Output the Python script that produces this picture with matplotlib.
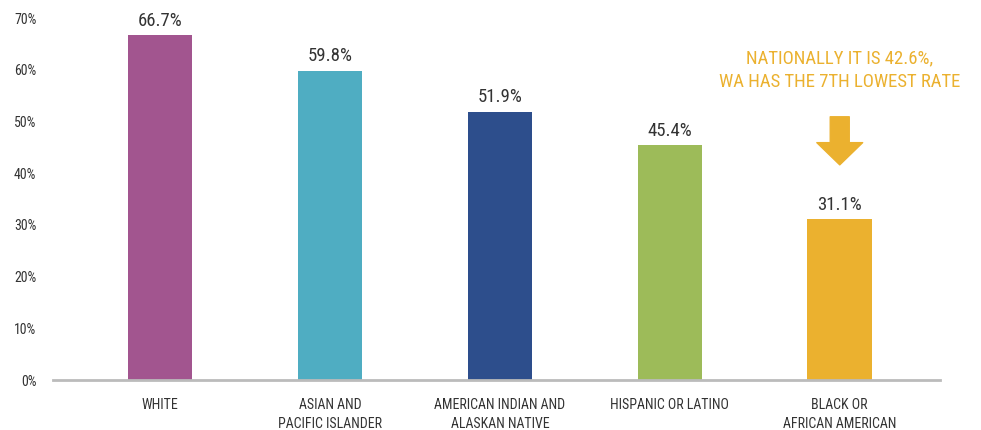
import matplotlib.pyplot as plt
from matplotlib import font_manager

# data
groups = ["WHITE", "ASIAN AND\nPACIFIC ISLANDER", "AMERICAN INDIAN AND\nALASKAN NATIVE",
          "HISPANIC OR LATINO", "BLACK OR\nAFRICAN AMERICAN"]
rates = [66.7, 59.8, 51.9, 45.4, 31.1]
colors = ["#A2558F", "#4FADC2", "#2D4E8C", "#9DBB59", "#EBB12F"]
yticks = [0, 10, 20, 30, 40, 50, 60, 70]

# pick a narrow font if one is around
names = {f.name for f in font_manager.fontManager.ttflist}
fam = "DejaVu Sans"
for cand in ["Liberation Sans Narrow", "Roboto Condensed", "Open Sans Condensed", "DejaVu Sans"]:
    if cand in names:
        fam = cand
        break
plt.rcParams['font.family'] = [fam, 'DejaVu Sans']
plt.rcParams['font.stretch'] = 'condensed'

fig = plt.figure(figsize=(9.81, 4.30), dpi=100)
ax = fig.add_axes([53/981, 50/430, 887/981, 362/430])

x = list(range(len(groups)))
ax.bar(x, rates, width=0.38, color=colors, zorder=2)

# value labels above bars
for xi, r in zip(x, rates):
    ax.annotate(f"{r}%", (xi, r), xytext=(0, 4), textcoords="offset points",
                ha="center", va="bottom", fontsize=13.5, color="#333333")

# national comparison note + arrow
ax.text(4, 60.0, "NATIONALLY IT IS 42.6%,\nWA HAS THE 7TH LOWEST RATE",
        ha="center", va="center", fontsize=13.5, color="#EBB12F", linespacing=1.4)
ax.annotate("", xy=(4, 41.6), xytext=(4, 50.9),
            arrowprops=dict(arrowstyle="simple,head_length=1.6,head_width=3.3,tail_width=1.37",
                            mutation_scale=10, color="#EBB12F", shrinkA=0, shrinkB=0))

ax.set_xlim(-0.63, 4.59)
ax.set_ylim(0, 70)
ax.set_yticks(yticks)
ax.set_yticklabels([f"{t}%" for t in yticks])
ax.set_xticks(x)
ax.set_xticklabels(groups, linespacing=1.45)
ax.tick_params(axis="both", length=0, labelsize=10, labelcolor="#333333")
ax.tick_params(axis="y", pad=12)
ax.tick_params(axis="x", pad=13)

for s in ["top", "right", "left"]:
    ax.spines[s].set_visible(False)
ax.spines["bottom"].set_color("#BBBBBB")
ax.spines["bottom"].set_linewidth(2)
ax.spines["bottom"].set_zorder(3)

fig.savefig("out.png", dpi=100)
